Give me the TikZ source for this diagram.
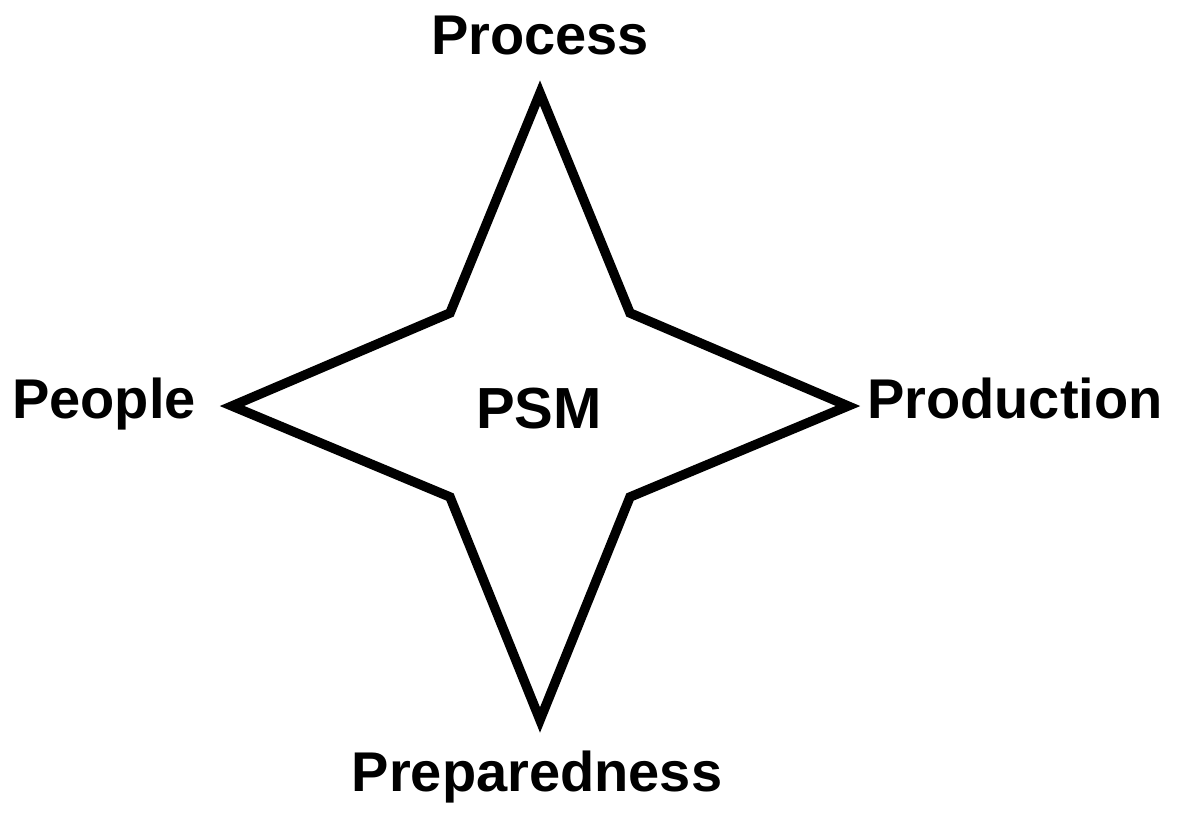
\documentclass[tikz,border=0pt]{standalone}
\usepackage{fontspec}
\setmainfont{Liberation Sans}
\begin{document}
\begin{tikzpicture}[x=1pt,y=-1pt,
  lbl/.style={font=\fontsize{56}{60}\selectfont\bfseries, inner sep=0pt, anchor=base},
  starline/.style={line width=9.5pt, line join=miter, miter limit=20}]
\useasboundingbox[fill=white] (0,0) rectangle (1181,813);
\coordinate (T) at (540,93);
\coordinate (TR) at (630,313);
\coordinate (R) at (848,406);
\coordinate (BR) at (630,497);
\coordinate (B) at (540,720);
\coordinate (BL) at (450,497);
\coordinate (L) at (232,406);
\coordinate (TL) at (450,313);
\draw[starline] (T) -- (TR) -- (R) -- (BR) -- (B) -- (BL) -- (L) -- (TL) -- cycle;
\node[lbl] (process) at (540,55) {Process};
\node[lbl, anchor=base west] (production) at (867,418) {Production};
\node[lbl, anchor=base east] (people) at (196,418) {People};
\node[lbl] (prep) at (537,791) {Preparedness};
\node[lbl, font=\fontsize{58}{62}\selectfont\bfseries] (psm) at (539,428) {PSM};
\end{tikzpicture}
\end{document}
